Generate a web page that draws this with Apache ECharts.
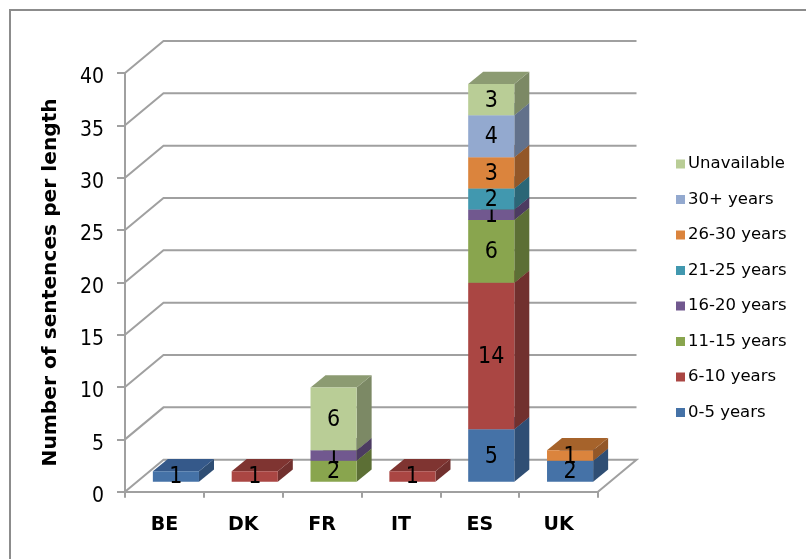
<!DOCTYPE html>
<html><head><meta charset="utf-8">
<style>html,body{margin:0;padding:0;background:#fff}#c{width:806px;height:559px}</style>
<script src="https://cdn.jsdelivr.net/npm/echarts@6/dist/echarts.min.js"></script>
</head><body><div id="c"></div>
<script>
const categories = ['BE','DK','FR','IT','ES','UK'];
const yTicks = [0,5,10,15,20,25,30,35,40];
const s0_5 = [1,0,0,0,5,2];
const s6_10 = [0,1,0,1,14,0];
const s11_15 = [0,0,2,0,6,0];
const s16_20 = [0,0,1,0,1,0];
const s21_25 = [0,0,0,0,2,0];
const s26_30 = [0,0,0,0,3,1];
const s30p = [0,0,0,0,4,0];
const sUnav = [0,0,6,0,3,0];
const seriesDefs = [
 {name:'0-5 years',values:s0_5,color:'#4572A7',side:'#2F4E74',top:'#35598A'},
 {name:'6-10 years',values:s6_10,color:'#AA4643',side:'#71302E',top:'#7F3431'},
 {name:'11-15 years',values:s11_15,color:'#89A54E',side:'#5C6F35',top:'#67803A'},
 {name:'16-20 years',values:s16_20,color:'#71588F',side:'#4C3B61',top:'#55426C'},
 {name:'21-25 years',values:s21_25,color:'#4198AF',side:'#2B6676',top:'#317385'},
 {name:'26-30 years',values:s26_30,color:'#DB843D',side:'#935728',top:'#A6632B'},
 {name:'30+ years',values:s30p,color:'#93A9CF',side:'#62718B',top:'#6F809D'},
 {name:'Unavailable',values:sUnav,color:'#B9CD96',side:'#7C8965',top:'#8C9B72'}
];
const WX=38.5, WY=-32;           // wall depth
const BX=11.5, BY=-10;           // bar front plane offset
const DX=15, DY=-12.3;           // bar depth
const BARW=0.585;                // bar width as share of the band
const AXIS='#A0A0A0';

const series=[];
series.push({type:'custom',silent:true,z:1,coordinateSystem:'cartesian2d',
  data:yTicks.map(v=>[0,v]),encode:{x:0,y:1},
  renderItem(p,api){
    const v=api.value(1), a=api.coord([0,v]), band=api.size([1,0])[0];
    const x0=a[0]-band/2, x1=x0+band*6, y=a[1];
    const pts=v===0?[[x1,y],[x1+WX,y+WY],[x0+WX,y+WY],[x0,y]]:[[x0,y],[x0+WX,y+WY],[x1+WX,y+WY]];
    return {type:'polyline',shape:{points:pts},style:{stroke:AXIS,lineWidth:2,fill:null}};
  }});
seriesDefs.forEach((d,si)=>{
  const data=d.values.map((v,i)=>{
    let base=0; for(let k=0;k<si;k++) base+=seriesDefs[k].values[i];
    return [i,base,base+v,v];
  });
  series.push({name:d.name,type:'custom',coordinateSystem:'cartesian2d',z:2+si,silent:true,
    itemStyle:{color:d.color},
    data,encode:{x:0,y:[1,2]},
    renderItem(p,api){
      const v=api.value(3); if(!v) return null;
      const i=api.value(0), lo=api.coord([i,api.value(1)]), hi=api.coord([i,api.value(2)]);
      const band=api.size([1,0])[0], w=band*BARW;
      const l=lo[0]-w/2+BX, r=l+w, b=lo[1]+BY, t=hi[1]+BY;
      return {type:'group',children:[
        {type:'polygon',shape:{points:[[r,b],[r+DX,b+DY],[r+DX,t+DY],[r,t]]},style:{fill:d.side}},
        {type:'polygon',shape:{points:[[l,t],[r,t],[r+DX,t+DY],[l+DX,t+DY]]},style:{fill:d.top}},
        {type:'rect',shape:{x:l,y:t,width:w,height:b-t},style:{fill:d.color}},
        {type:'text',z2:50,style:{text:String(v),x:(l+r)/2,y:(t+b)/2+1,align:'center',verticalAlign:'middle',
          font:'23px "DejaVu Sans Condensed"',fill:'#000'}}
      ]};
    }});
});

const chart=echarts.init(document.getElementById('c'),null,{renderer:'canvas'});
chart.setOption({
  animation:false,backgroundColor:'#fff',
  grid:{left:125,right:208,top:73,bottom:67.3,containLabel:false},
  xAxis:{type:'category',data:categories,
    axisLine:{lineStyle:{color:AXIS,width:2}},
    axisTick:{show:true,alignWithLabel:false,length:6,lineStyle:{color:AXIS,width:2}},
    axisLabel:{fontFamily:'DejaVu Sans',fontWeight:'bold',fontSize:19,color:'#000',margin:24}},
  yAxis:{type:'value',min:0,max:40,interval:5,
    name:'Number of sentences per length',nameLocation:'middle',nameRotate:90,nameGap:64,
    nameTextStyle:{fontFamily:'DejaVu Sans',fontWeight:'bold',fontSize:20.2,color:'#000'},
    splitLine:{show:false},
    axisLine:{show:true,lineStyle:{color:AXIS,width:2}},
    axisTick:{show:true,length:8,lineStyle:{color:AXIS,width:2}},
    axisLabel:{fontFamily:'DejaVu Sans Condensed',fontSize:21,color:'#000',margin:21,verticalAlign:'top',lineHeight:10}},
  legend:{orient:'vertical',left:671,top:150,itemWidth:9,itemHeight:9,itemGap:17.5,itemStyle:{borderWidth:0},
    icon:'rect',selectedMode:false,
    data:seriesDefs.map(d=>d.name).reverse(),
    textStyle:{fontFamily:'DejaVu Sans',fontSize:16.5,color:'#000',padding:[0,0,0,-2],lineHeight:18}},
  graphic:[{type:'polyline',silent:true,shape:{points:[[10,559],[10,10],[806,10]]},style:{stroke:'#8C8C8C',lineWidth:2,fill:null}}],
  series
});
</script></body></html>
